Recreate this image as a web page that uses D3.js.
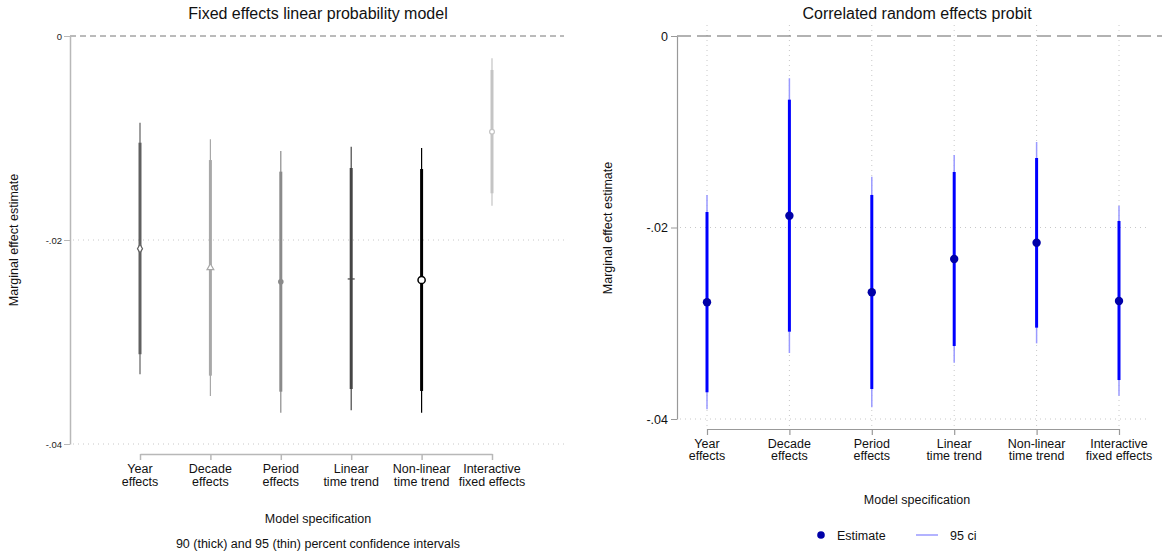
<!DOCTYPE html>
<html><head><meta charset="utf-8">
<script src="https://cdn.jsdelivr.net/npm/d3@7"></script>
<style>body{margin:0;background:#fff}svg{display:block;font-family:"Liberation Sans",Arial,sans-serif}</style>
</head><body><svg id="c" width="1174" height="554"></svg>
<script>
const categories = [["Year","effects"],["Decade","effects"],["Period","effects"],["Linear","time trend"],["Non-linear","time trend"],["Interactive","fixed effects"]];
const yTicks = [0, -0.02, -0.04];
const yTickLabels = ["0", "-.02", "-.04"];
// Left panel: fixed effects LPM
const lpmEst   = [-0.02085, -0.02271, -0.02409, -0.02382, -0.02392, -0.00938];
const lpmLo90  = [-0.0312, -0.0333, -0.03487, -0.03461, -0.0348, -0.01542];
const lpmHi90  = [-0.01046, -0.01216, -0.0133, -0.01294, -0.01304, -0.00333];
const lpmLo95  = [-0.03317, -0.0353, -0.03693, -0.0367, -0.03693, -0.01663];
const lpmHi95  = [-0.0085, -0.01013, -0.01127, -0.01085, -0.01098, -0.00219];
const lpmColors = ["#606060", "#a8a8a8", "#8a8a8a", "#454545", "#000000", "#c4c4c4"];
const lpmMarkers = ["diamond", "triangle", "dot", "plus", "ring", "smallring"];
// Right panel: CRE probit
const creEst  = [-0.02781, -0.01877, -0.02677, -0.02329, -0.02159, -0.02768];
const creLo90 = [-0.03721, -0.03088, -0.03687, -0.03238, -0.03046, -0.03593];
const creHi90 = [-0.01838, -0.00665, -0.0166, -0.0142, -0.01274, -0.01932];
const creLo95 = [-0.03899, -0.0331, -0.03878, -0.03412, -0.0321, -0.03757];
const creHi95 = [-0.0166, -0.00442, -0.01469, -0.01243, -0.01107, -0.01772];

const svg = d3.select("#c");
const idx = d3.range(categories.length);
const catKey = i => categories[i].join(" ");

// ---------- LEFT PANEL ----------
const xL = d3.scalePoint().domain(idx.map(catKey)).range([140, 492]);
const yL = d3.scaleLinear().domain([-0.04, 0]).range([444, 36]);
const L = svg.append("g");
L.append("text").attr("x", 318).attr("y", 19).attr("text-anchor", "middle").attr("font-size", 16).attr("fill", "#111").text("Fixed effects linear probability model");
yTicks.filter(v => v !== 0).forEach(v => {
  L.append("line").attr("x1", 73).attr("x2", 564).attr("y1", yL(v)).attr("y2", yL(v)).attr("stroke", "#c8c8c8").attr("stroke-width", 1).attr("stroke-dasharray", "1,4");
});
L.append("line").attr("x1", 70).attr("x2", 564).attr("y1", yL(0)).attr("y2", yL(0)).attr("stroke", "#777").attr("stroke-width", 1).attr("stroke-dasharray", "6,4");
const yAxL = L.append("g").attr("transform", "translate(70,0)").call(d3.axisLeft(yL).tickValues(yTicks).tickFormat((d, i) => yTickLabels[i]).tickSize(6).tickSizeOuter(0));
yAxL.select(".domain").attr("stroke", "#b8b8b8").attr("stroke-width", 1.5);
yAxL.selectAll(".tick line").attr("stroke", "#b8b8b8");
yAxL.selectAll(".tick text").attr("font-size", 9.5).attr("fill", "#222").attr("x", -8).attr("font-family", "Liberation Sans, Arial, sans-serif");
L.append("text").attr("transform", "translate(18,240) rotate(-90)").attr("text-anchor", "middle").attr("font-size", 12.5).attr("fill", "#111").text("Marginal effect estimate");
const xAxL = L.append("g").attr("transform", "translate(0,454)").call(d3.axisBottom(xL).tickSize(6).tickSizeOuter(0).tickFormat(""));
xAxL.select(".domain").attr("stroke", "#b8b8b8").attr("stroke-width", 1.5);
xAxL.selectAll(".tick line").attr("stroke", "#b8b8b8").attr("stroke-width", 1.5);
idx.forEach(i => {
  const t = L.append("text").attr("text-anchor", "middle").attr("font-size", 12.5).attr("fill", "#111");
  t.append("tspan").attr("x", xL(catKey(i))).attr("y", 473).text(categories[i][0]);
  t.append("tspan").attr("x", xL(catKey(i))).attr("y", 486).text(categories[i][1]);
});
L.append("text").attr("x", 318).attr("y", 523).attr("text-anchor", "middle").attr("font-size", 12.5).attr("fill", "#111").text("Model specification");
L.append("text").attr("x", 318).attr("y", 548).attr("text-anchor", "middle").attr("font-size", 12.5).attr("fill", "#111").text("90 (thick) and 95 (thin) percent confidence intervals");
idx.forEach(i => {
  const x = xL(catKey(i)), c = lpmColors[i];
  L.append("line").attr("x1", x).attr("x2", x).attr("y1", yL(lpmLo95[i])).attr("y2", yL(lpmHi95[i])).attr("stroke", c).attr("stroke-width", 1.2);
  L.append("line").attr("x1", x).attr("x2", x).attr("y1", yL(lpmLo90[i])).attr("y2", yL(lpmHi90[i])).attr("stroke", c).attr("stroke-width", 3);
  const y = yL(lpmEst[i]);
  const m = lpmMarkers[i];
  if (m === "diamond") L.append("path").attr("d", d3.symbol(d3.symbolDiamond, 22)()).attr("transform", `translate(${x},${y})`).attr("fill", "#fff").attr("stroke", c).attr("stroke-width", 1.2);
  else if (m === "triangle") L.append("path").attr("d", d3.symbol(d3.symbolTriangle, 20)()).attr("transform", `translate(${x},${y})`).attr("fill", "#fff").attr("stroke", c).attr("stroke-width", 1.2);
  else if (m === "dot") L.append("circle").attr("cx", x).attr("cy", y).attr("r", 2.8).attr("fill", c);
  else if (m === "plus") L.append("path").attr("d", `M${x-3.5},${y}H${x+3.5}`).attr("stroke", c).attr("stroke-width", 1.2);
  else if (m === "ring") L.append("circle").attr("cx", x).attr("cy", y).attr("r", 3.6).attr("fill", "#fff").attr("stroke", c).attr("stroke-width", 1.5);
  else L.append("circle").attr("cx", x).attr("cy", y).attr("r", 2.4).attr("fill", "#fff").attr("stroke", c).attr("stroke-width", 1.2);
});

// ---------- RIGHT PANEL ----------
const xR = d3.scalePoint().domain(idx.map(catKey)).range([707, 1119]);
const yR = d3.scaleLinear().domain([-0.04, 0]).range([419, 36]);
const R = svg.append("g");
R.append("text").attr("x", 917).attr("y", 19).attr("text-anchor", "middle").attr("font-size", 16).attr("fill", "#111").text("Correlated random effects probit");
idx.forEach(i => {
  R.append("line").attr("x1", xR(catKey(i))).attr("x2", xR(catKey(i))).attr("y1", 25).attr("y2", 429).attr("stroke", "#c8c8c8").attr("stroke-dasharray", "1,4");
});
yTicks.filter(v => v !== 0).forEach(v => {
  R.append("line").attr("x1", 680).attr("x2", 1150).attr("y1", yR(v)).attr("y2", yR(v)).attr("stroke", "#c8c8c8").attr("stroke-dasharray", "1,4");
});
R.append("line").attr("x1", 677).attr("x2", 1162).attr("y1", yR(0)).attr("y2", yR(0)).attr("stroke", "#666").attr("stroke-width", 1.2).attr("stroke-dasharray", "14,6");
const yAxR = R.append("g").attr("transform", "translate(677,0)").call(d3.axisLeft(yR).tickValues(yTicks).tickFormat((d, i) => yTickLabels[i]).tickSize(6).tickSizeOuter(0));
yAxR.select(".domain").attr("stroke", "#999").attr("stroke-width", 1.2);
yAxR.selectAll(".tick line").attr("stroke", "#999");
yAxR.selectAll(".tick text").attr("font-size", 12.5).attr("fill", "#111").attr("x", -9).attr("font-family", "Liberation Sans, Arial, sans-serif");
R.append("text").attr("transform", "translate(612,228) rotate(-90)").attr("text-anchor", "middle").attr("font-size", 12.5).attr("fill", "#111").text("Marginal effect estimate");
const xAxR = R.append("g").attr("transform", "translate(0,429)").call(d3.axisBottom(xR).tickSize(6).tickSizeOuter(0).tickFormat(""));
xAxR.select(".domain").attr("stroke", "#999").attr("stroke-width", 1.2);
xAxR.selectAll(".tick line").attr("stroke", "#999").attr("stroke-width", 1.2);
idx.forEach(i => {
  const t = R.append("text").attr("text-anchor", "middle").attr("font-size", 12.5).attr("fill", "#111");
  t.append("tspan").attr("x", xR(catKey(i))).attr("y", 448).text(categories[i][0]);
  t.append("tspan").attr("x", xR(catKey(i))).attr("y", 460).text(categories[i][1]);
});
R.append("text").attr("x", 917).attr("y", 504).attr("text-anchor", "middle").attr("font-size", 12.5).attr("fill", "#111").text("Model specification");
idx.forEach(i => {
  const x = xR(catKey(i));
  R.append("line").attr("x1", x).attr("x2", x).attr("y1", yR(creLo95[i])).attr("y2", yR(creHi95[i])).attr("stroke", "#9a9aff").attr("stroke-width", 1.5);
  R.append("line").attr("x1", x).attr("x2", x).attr("y1", yR(creLo90[i])).attr("y2", yR(creHi90[i])).attr("stroke", "#0000ff").attr("stroke-width", 3);
  R.append("circle").attr("cx", x).attr("cy", yR(creEst[i])).attr("r", 4.2).attr("fill", "#0000a8");
});
R.append("circle").attr("cx", 821).attr("cy", 535).attr("r", 3.8).attr("fill", "#0000a8");
R.append("text").attr("x", 837).attr("y", 539.5).attr("font-size", 12.5).attr("fill", "#111").text("Estimate");
R.append("line").attr("x1", 916).attr("x2", 938).attr("y1", 535).attr("y2", 535).attr("stroke", "#9a9aff").attr("stroke-width", 1.5);
R.append("text").attr("x", 950).attr("y", 539.5).attr("font-size", 12.5).attr("fill", "#111").text("95 ci");
</script></body></html>
